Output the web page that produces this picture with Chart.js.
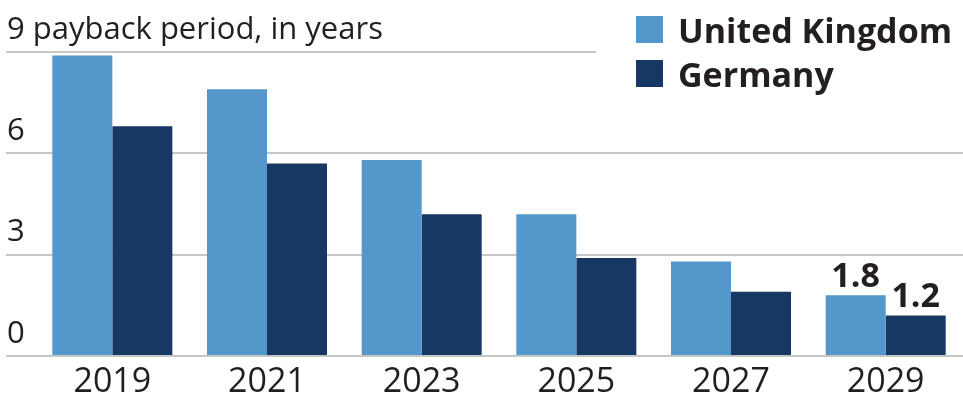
<!DOCTYPE html>
<html lang="en">
<head>
  <meta charset="UTF-8" />
  <title>Payback period</title>
  <style>
    body {
      margin: 0;
      background: #fff;
      font-family: "Open Sans", sans-serif;
      color: #231f20;
    }

    #wrap {
      position: relative;
      width: 963px;
      height: 400px;
    }

    #legend {
      position: absolute;
      left: 636px;
      top: 16px;
    }

    .legendRow {
      display: flex;
      align-items: center;
      height: 27px;
      margin-bottom: 17px;
      white-space: nowrap;
    }

    .legendBox {
      width: 27px;
      height: 27px;
      margin-right: 15px;
    }

    .legendText {
      font-weight: 700;
      font-size: 34px;
      line-height: 1;
    }
  </style>
</head>
<body>
  <div id="wrap">
    <canvas id="chart"></canvas>
    <div id="legend"></div>
  </div>

  <script src="https://cdn.jsdelivr.net/npm/chart.js"></script>
  <script>
    // values
    const years = ["2019", "2021", "2023", "2025", "2027", "2029"];
    const ukValues = [8.9, 7.9, 5.8, 4.2, 2.8, 1.8];
    const deValues = [6.8, 5.7, 4.2, 2.9, 1.9, 1.2];
    const seriesNames = ["United Kingdom", "Germany"];
    const seriesColors = ["#5497cb", "#163862"];
    const axisTitle = "payback period, in years";
    const yMax = 9;
    const yStep = 3;

    const textColor = "#231f20";
    const gridColor = "#c6c6c6";

    // top gridline stops short of the legend
    const topLine = {
      id: "topLine",
      beforeDatasetsDraw(chart) {
        const ctx = chart.ctx;
        const y = chart.scales.y.getPixelForValue(yMax);
        ctx.save();
        ctx.strokeStyle = gridColor;
        ctx.lineWidth = 2;
        ctx.beginPath();
        ctx.moveTo(6, y);
        ctx.lineTo(596, y);
        ctx.stroke();
        ctx.restore();
      }
    };

    // value labels on the last pair of bars
    const lastValues = {
      id: "lastValues",
      afterDatasetsDraw(chart) {
        const ctx = chart.ctx;
        ctx.save();
        ctx.font = "700 34px 'Open Sans'";
        ctx.fillStyle = textColor;
        ctx.textAlign = "center";
        ctx.textBaseline = "alphabetic";
        chart.data.datasets.forEach((ds, i) => {
          const meta = chart.getDatasetMeta(i);
          const last = meta.data.length - 1;
          const el = meta.data[last];
          ctx.fillText(ds.data[last].toFixed(1), el.x, el.y - 8);
        });
        ctx.restore();
      }
    };

    const lineColor = (c) => (c.tick && c.tick.value === yMax ? "rgba(0,0,0,0)" : gridColor);

    const chart = new Chart(document.getElementById("chart"), {
      type: "bar",
      data: {
        labels: years,
        datasets: [
          { label: seriesNames[0], data: ukValues, backgroundColor: seriesColors[0] },
          { label: seriesNames[1], data: deValues, backgroundColor: seriesColors[1] }
        ]
      },
      options: {
        responsive: true,
        maintainAspectRatio: false,
        animation: false,
        layout: { padding: { left: 6, right: 0, top: 52, bottom: 0 } },
        datasets: {
          bar: { categoryPercentage: 0.776, barPercentage: 1.0, borderWidth: 0 }
        },
        plugins: {
          legend: { display: false },
          tooltip: { enabled: false }
        },
        scales: {
          x: {
            grid: { display: false, drawTicks: false },
            border: { display: false },
            ticks: {
              color: textColor,
              font: { family: "'Open Sans'", size: 34 },
              padding: 6,
              maxRotation: 0
            },
            afterFit(s) { s.height = 44; }
          },
          y: {
            min: 0,
            max: yMax,
            border: { display: false },
            grid: {
              color: lineColor,
              tickColor: lineColor,
              lineWidth: 2,
              drawTicks: true,
              tickLength: 29
            },
            ticks: {
              stepSize: yStep,
              color: textColor,
              font: { family: "'Open Sans'", size: 31 },
              mirror: true,
              crossAlign: "near",
              labelOffset: -22,
              padding: -28,
              callback: (v) => (v === yMax ? v + " " + axisTitle : v)
            },
            afterFit(s) { s.width = 29; }
          }
        }
      },
      plugins: [topLine, lastValues]
    });

    // legend as html, built from the datasets
    const legend = document.getElementById("legend");
    chart.data.datasets.forEach((ds) => {
      const row = document.createElement("div");
      row.className = "legendRow";
      row.innerHTML = `<div class="legendBox" style="background:${ds.backgroundColor}"></div><span class="legendText">${ds.label}</span>`;
      legend.appendChild(row);
    });
  </script>
</body>
</html>
